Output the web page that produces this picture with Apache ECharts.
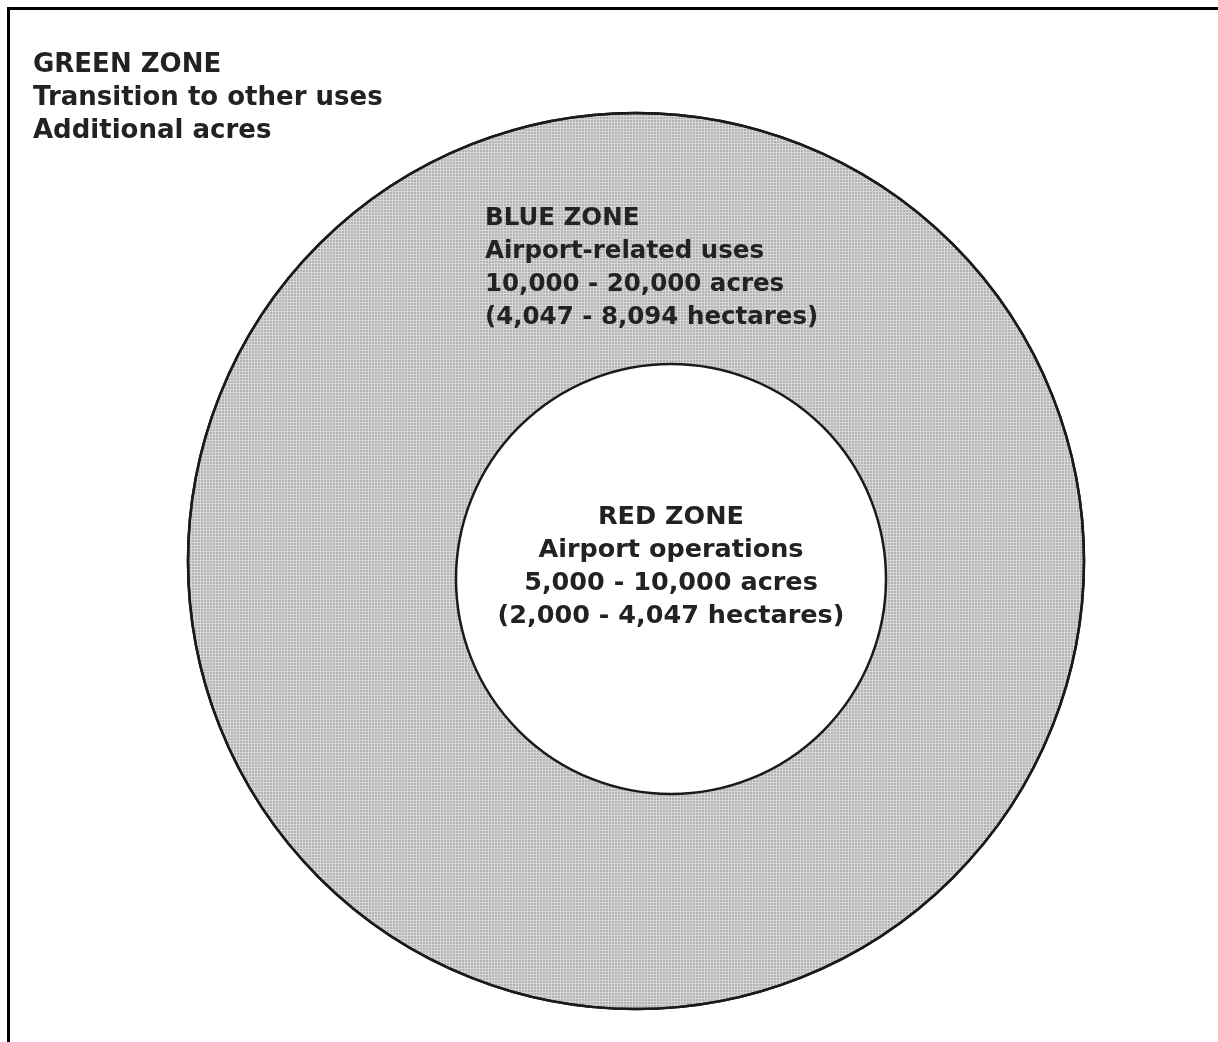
<!DOCTYPE html>
<html lang="en">
<head>
<meta charset="UTF-8">
<title>Airport zones</title>
<script src="https://cdn.jsdelivr.net/npm/echarts@6/dist/echarts.min.js"></script>
<style>
    html, body { margin: 0; padding: 0; background: #fff; }
    #container { width: 1218px; height: 1042px; }
</style>
</head>
<body>
<div id="container"></div>
<script type="text/javascript">
    // zone data
    var zoneNames = ['GREEN ZONE', 'BLUE ZONE', 'RED ZONE'];
    var zoneUses = ['Transition to other uses', 'Airport-related uses', 'Airport operations'];
    var zoneAcres = ['Additional acres', '10,000 - 20,000 acres', '5,000 - 10,000 acres'];
    var zoneHectares = ['', '(4,047 - 8,094 hectares)', '(2,000 - 4,047 hectares)'];

    function zoneText(i) {
        var lines = [zoneNames[i], zoneUses[i], zoneAcres[i]];
        if (zoneHectares[i]) lines.push(zoneHectares[i]);
        return lines.join('\n');
    }

    function font(size) {
        return {
            fontFamily: 'DejaVu Sans',
            fontWeight: 'bold',
            fontSize: size,
            lineHeight: 33,
            color: '#222'
        };
    }

    var myChart = echarts.init(document.getElementById('container'), null, { renderer: 'canvas' });

    var redFont = font(25.5);

    var option = {
        animation: false,
        backgroundColor: '#fff',
        title: [
            { text: zoneText(0), left: 33, top: 49, padding: 0, textStyle: font(26) },
            { text: zoneText(1), left: 485, top: 202, padding: 0, textStyle: font(24.5) }
        ],
        // frame, top and left only
        graphic: [{
            type: 'polyline',
            shape: { points: [[8.5, 1042], [8.5, 8.5], [1218, 8.5]] },
            style: { stroke: '#000', lineWidth: 3, fill: null },
            silent: true
        }],
        series: [
            {
                name: zoneNames[1],
                type: 'pie',
                center: [636, 561],
                radius: 448,
                silent: true,
                label: { show: false },
                labelLine: { show: false },
                emphasis: { disabled: true },
                itemStyle: {
                    color: '#d6d6d6',
                    borderColor: '#1a1a1a',
                    borderWidth: 2.5,
                    decal: {
                        symbol: 'rect',
                        symbolSize: 0.6,
                        color: 'rgba(50,50,50,0.7)',
                        dashArrayX: [2, 1],
                        dashArrayY: [2, 1]
                    }
                },
                data: [{ name: zoneNames[1], value: 1 }]
            },
            {
                name: zoneNames[2],
                type: 'pie',
                center: [671, 579],
                radius: 215,
                silent: true,
                emphasis: { disabled: true },
                labelLine: { show: false },
                label: {
                    show: true,
                    position: 'center',
                    formatter: function () { return zoneText(2); },
                    fontFamily: redFont.fontFamily,
                    fontWeight: redFont.fontWeight,
                    fontSize: redFont.fontSize,
                    lineHeight: redFont.lineHeight,
                    color: redFont.color,
                    align: 'center',
                    offset: [0, -12]
                },
                itemStyle: {
                    color: '#fff',
                    borderColor: '#1a1a1a',
                    borderWidth: 2.5
                },
                data: [{ name: zoneNames[2], value: 1 }]
            }
        ]
    };
    myChart.setOption(option);
    window.addEventListener('resize', myChart.resize);
</script>
</body>
</html>
